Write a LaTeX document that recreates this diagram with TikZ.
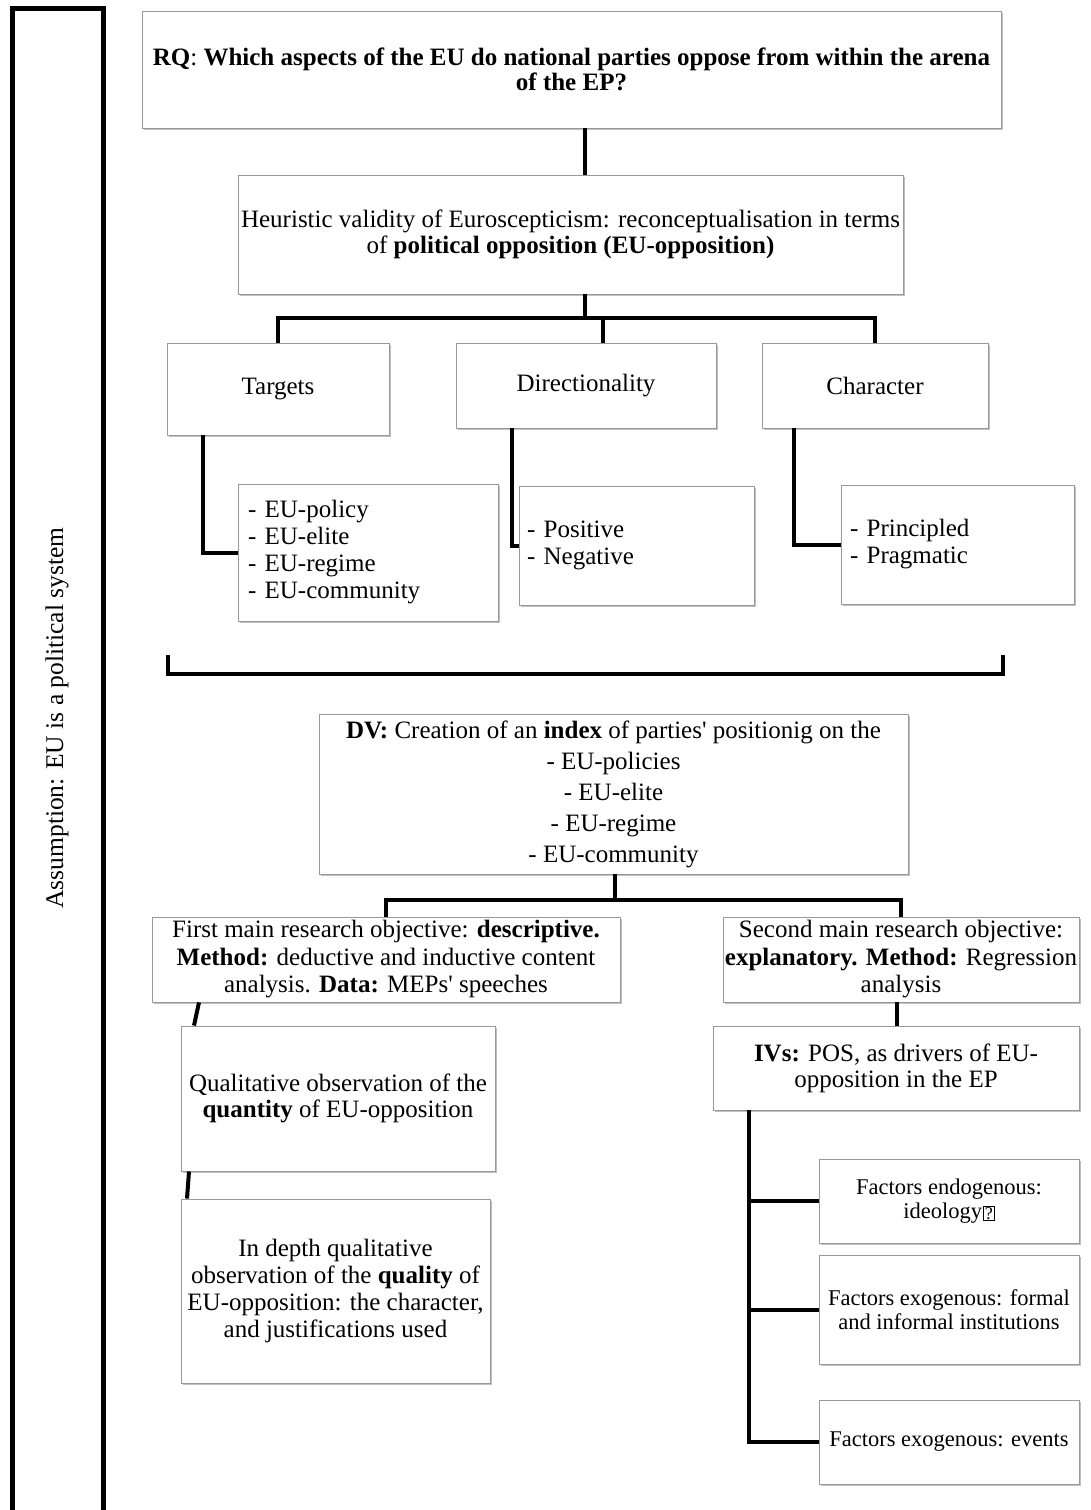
\documentclass[tikz,border=0pt]{standalone}
\usepackage{fontspec}
\setmainfont{Liberation Serif}
\usetikzlibrary{shadows}
\newcommand{\missingglyph}{\kern1pt{\setlength{\fboxsep}{0.8pt}\setlength{\fboxrule}{0.9pt}\raisebox{-1pt}{\fbox{\fontsize{18}{18}\selectfont ?}}}}
\begin{document}
\begin{tikzpicture}[x=1pt,y=-1pt,
  box/.style={draw=black!40, line width=0.9pt, fill=white, inner sep=0pt, align=center,
    drop shadow={shadow xshift=1.6pt, shadow yshift=-2pt, opacity=0.35, fill=black!70},
    font=\fontsize{25}{27}\selectfont},
  conn/.style={line width=4pt, black, line join=miter},
  frame/.style={line width=5pt, black}]
\useasboundingbox[fill=white] (0,0) rectangle (1090,1510);

% left frame with assumption
\draw[frame] (12,1512) -- (12,8) -- (103,8) -- (103,1512);
\node[rotate=90, font=\fontsize{25.5}{28}\selectfont] (assump) at (57,718) {Assumption: EU is a political system};

% nodes
\node[box, minimum width=859, minimum height=117, font=\fontsize{25}{25.5}\selectfont] (rq) at (571.5,69.5)
  {\textbf{RQ}: \textbf{Which aspects of the EU do national parties oppose from within the arena}\\ \textbf{of the EP?}};
\node[box, minimum width=665, minimum height=119, font=\fontsize{25}{25.5}\selectfont] (heur) at (570.5,234.5)
  {Heuristic validity of Euroscepticism: reconceptualisation in terms\\ of \textbf{political opposition (EU-opposition)}};

\node[box, minimum width=222, minimum height=92] (targets) at (278,389) {Targets};
\node[box, minimum width=260, minimum height=85] (direct) at (586,385.5) {Directionality};
\node[box, minimum width=226, minimum height=85] (charac) at (875,385.5) {Character};

\node[box, minimum width=260, minimum height=137, text width=240, align=left] (list1) at (368,552.5)
  {- EU-policy\\ - EU-elite\\ - EU-regime\\ - EU-community};
\node[box, minimum width=235, minimum height=119, text width=219, align=left] (list2) at (636.5,545.5)
  {- Positive\\ - Negative};
\node[box, minimum width=233, minimum height=119, text width=215, align=left] (list3) at (957.5,544.5)
  {- Principled\\ - Pragmatic};

\node[box, minimum width=589, minimum height=160, font=\fontsize{25}{31}\selectfont] (dv) at (613.5,794)
  {\textbf{DV:} Creation of an \textbf{index} of parties\textquotesingle{} positionig on the\\ - EU-policies\\ - EU-elite\\ - EU-regime\\ - EU-community};

\node[box, minimum width=468, minimum height=85, font=\fontsize{25}{27.5}\selectfont] (obj1) at (386,959.5)
  {First main research objective: \textbf{descriptive.}\\ \textbf{Method:} deductive and inductive content\\ analysis. \textbf{Data:} MEPs\textquotesingle{} speeches};
\node[box, minimum width=356, minimum height=85, font=\fontsize{25}{27.5}\selectfont] (obj2) at (901,959.5)
  {Second main research objective:\\ \textbf{explanatory. Method:} Regression\\ analysis};

\node[box, minimum width=366, minimum height=84, font=\fontsize{25}{26}\selectfont] (ivs) at (896,1068)
  {\textbf{IVs:} POS, as drivers of EU-\\ opposition in the EP};

\node[box, minimum width=260, minimum height=84, font=\fontsize{22.5}{24}\selectfont] (f1) at (949,1201)
  {Factors endogenous:\\ ideology\missingglyph};
\node[box, minimum width=260, minimum height=109, font=\fontsize{22.5}{24}\selectfont] (f2) at (949,1309.5)
  {Factors exogenous: formal\\ and informal institutions};
\node[box, minimum width=260, minimum height=84, font=\fontsize{22.5}{24}\selectfont] (f3) at (949,1442)
  {Factors exogenous: events};

\node[box, minimum width=314, minimum height=145, font=\fontsize{25}{26}\selectfont] (qual1) at (338,1098.5)
  {Qualitative observation of the\\ \textbf{quantity} of EU-opposition};
\node[box, minimum width=309, minimum height=184] (qual2) at (335.5,1291)
  {In depth qualitative\\ observation of the \textbf{quality} of\\ EU-opposition: the character,\\ and justifications used};

% helper coordinates
\coordinate (xa) at (585,0);
\coordinate (bus1) at (585,318);
\coordinate (xt) at (278,0);
\coordinate (xd) at (603,0);
\coordinate (xc) at (875,0);
\coordinate (xl1) at (203,0);
\coordinate (xl2) at (512,0);
\coordinate (xl3) at (794,0);
\coordinate (bus2) at (615,900);
\coordinate (xo1) at (386,0);
\coordinate (xo2) at (901,0);
\coordinate (xiv) at (897,0);
\coordinate (xf) at (749,0);
\coordinate (q1a) at (199,0);
\coordinate (q1b) at (194,0);
\coordinate (q2a) at (189,0);
\coordinate (q2b) at (187,0);
\coordinate (brL) at (168,655);
\coordinate (brR) at (1003,655);

% connectors
\draw[conn] (rq.south -| xa) -- (heur.north -| xa);
\draw[conn] (heur.south -| xa) -- (bus1);
\draw[conn] (targets.north -| xt) -- (xt |- bus1) -- (xc |- bus1) -- (charac.north -| xc);
\draw[conn] (xd |- bus1) -- (direct.north -| xd);

\draw[conn] (targets.south -| xl1) |- (list1.west);
\draw[conn] (direct.south -| xl2) |- (list2.west);
\draw[conn] (charac.south -| xl3) |- (list3.west);

\draw[conn] (brL) -- ++(0,19) -| (brR);

\draw[conn] (dv.south -| bus2) -- (bus2);
\draw[conn] (obj1.north -| xo1) -- (xo1 |- bus2) -- (xo2 |- bus2) -- (obj2.north -| xo2);

\draw[conn] (obj2.south -| xiv) -- (ivs.north -| xiv);
\draw[conn] (ivs.south -| xf) |- (f3.west);
\draw[conn] (xf |- f1.west) -- (f1.west);
\draw[conn] (xf |- f2.west) -- (f2.west);

\draw[conn] (obj1.south -| q1a) -- (qual1.north -| q1b);
\draw[conn] (qual1.south -| q2a) -- (qual2.north -| q2b);
\end{tikzpicture}
\end{document}
